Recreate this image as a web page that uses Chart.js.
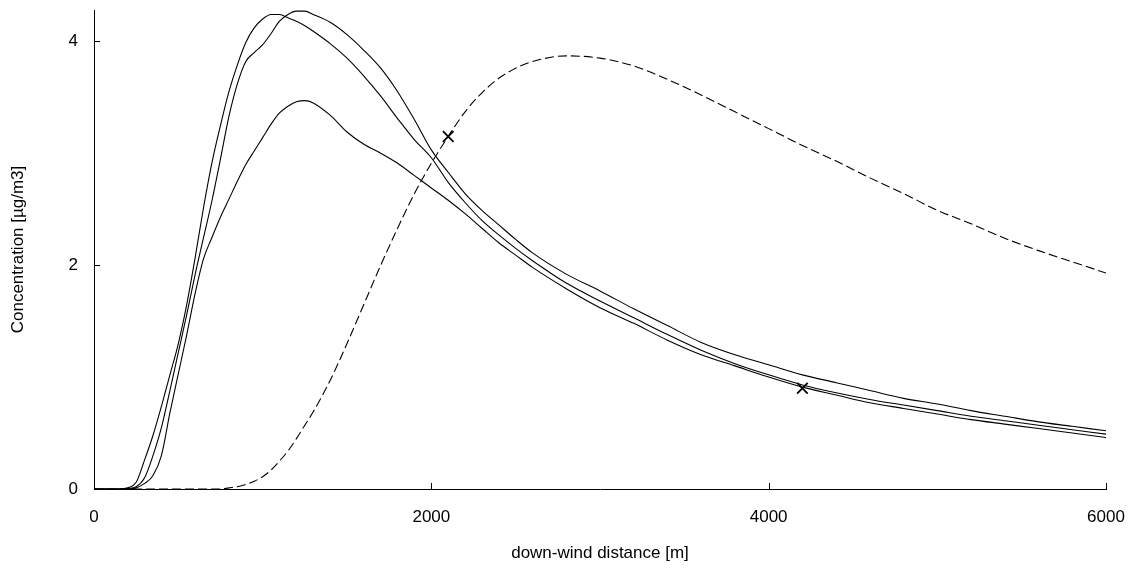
<!DOCTYPE html>
<html>
<head>
<meta charset="utf-8">
<script src="https://cdn.jsdelivr.net/npm/chart.js@4.4.1/dist/chart.umd.min.js"></script>
<style>
    html, body { margin: 0; padding: 0; background: #fff; }
    #wrap { width: 1133px; height: 570px; }
</style>
</head>
<body>
<div id="wrap"><canvas id="chart" width="1133" height="570"></canvas></div>
<script>
// down-wind distance [m]
const distance = [0, 100, 150, 200, 250, 300, 350, 400, 450, 500, 550, 600, 650, 700, 750, 800, 850, 900, 950, 1000,
    1050, 1100, 1150, 1200, 1250, 1300, 1400, 1500, 1600, 1700, 1800, 1900, 2000, 2100, 2200, 2300, 2400, 2500, 2600,
    2800, 3000, 3200, 3400, 3600, 3800, 4000, 4200, 4400, 4600, 4800, 5000, 5200, 5400, 5600, 5800, 6000];

// solid curves [µg/m3]
const curveA = [0, 0, 0, 0.01, 0.06, 0.26, 0.48, 0.74, 1.02, 1.30, 1.65, 2.07, 2.52, 2.92, 3.25, 3.55, 3.79, 3.99, 4.12, 4.20,
    4.24, 4.24, 4.21, 4.18, 4.14, 4.09, 3.98, 3.85, 3.69, 3.51, 3.31, 3.12, 2.96, 2.74, 2.56, 2.40, 2.27, 2.15, 2.04,
    1.84, 1.68, 1.53, 1.38, 1.24, 1.12, 1.02, 0.93, 0.86, 0.80, 0.75, 0.70, 0.65, 0.61, 0.57, 0.53, 0.49];
const curveB = [0, 0, 0, 0.005, 0.02, 0.10, 0.30, 0.55, 0.88, 1.22, 1.56, 1.92, 2.25, 2.58, 2.95, 3.33, 3.62, 3.82, 3.90, 3.97,
    4.07, 4.18, 4.24, 4.27, 4.27, 4.24, 4.17, 4.06, 3.92, 3.76, 3.55, 3.30, 3.03, 2.83, 2.64, 2.49, 2.36, 2.23, 2.11,
    1.92, 1.77, 1.61, 1.46, 1.31, 1.20, 1.11, 1.02, 0.95, 0.88, 0.81, 0.76, 0.70, 0.65, 0.60, 0.56, 0.52];
const curveC = [0, 0, 0, 0, 0.01, 0.05, 0.12, 0.30, 0.68, 1.03, 1.38, 1.75, 2.06, 2.25, 2.43, 2.59, 2.75, 2.90, 3.02, 3.14,
    3.26, 3.36, 3.42, 3.46, 3.47, 3.45, 3.34, 3.19, 3.08, 3.00, 2.91, 2.80, 2.69, 2.58, 2.46, 2.33, 2.20, 2.09, 1.98,
    1.79, 1.62, 1.48, 1.33, 1.20, 1.10, 1.00, 0.91, 0.84, 0.77, 0.72, 0.67, 0.62, 0.58, 0.54, 0.50, 0.46];

// dashed curve
const curveD = [0, 0, 0, 0, 0, 0, 0, 0, 0, 0, 0, 0, 0, 0, 0, 0.01, 0.02, 0.04, 0.07, 0.11,
    0.17, 0.25, 0.34, 0.45, 0.57, 0.69, 0.97, 1.30, 1.65, 2.00, 2.33, 2.64, 2.91, 3.15, 3.37, 3.54, 3.67, 3.76, 3.82,
    3.87, 3.85, 3.78, 3.66, 3.52, 3.37, 3.22, 3.07, 2.93, 2.78, 2.64, 2.49, 2.37, 2.24, 2.13, 2.03, 1.93];

// marked points
const markX = [2100, 4200];
const markY = [3.15, 0.90];

const xTicks = [0, 2000, 4000, 6000];
const yTicks = [0, 2, 4];

function toPoints(xs, ys) {
    return xs.map((x, i) => ({ x: x, y: ys[i] }));
}

const FONT = 'Liberation Sans, Arial, sans-serif';

// inward tick marks, drawn from the library's scales
const innerTicks = {
    id: 'innerTicks',
    afterDraw(chart) {
        const ctx = chart.ctx;
        const xs = chart.scales.x;
        const ys = chart.scales.y;
        ctx.save();
        ctx.strokeStyle = '#000';
        ctx.lineWidth = 1;
        ctx.beginPath();
        xTicks.forEach(v => {
            const px = Math.round(xs.getPixelForValue(v)) + 0.5;
            ctx.moveTo(px, ys.bottom);
            ctx.lineTo(px, ys.bottom - 6);
        });
        yTicks.forEach(v => {
            const py = Math.round(ys.getPixelForValue(v)) + 0.5;
            ctx.moveTo(xs.left, py);
            ctx.lineTo(xs.left + 6, py);
        });
        ctx.stroke();
        ctx.restore();
    }
};

const solid = {
    borderColor: '#000',
    borderWidth: 1.1,
    pointRadius: 0,
    fill: false,
    cubicInterpolationMode: 'monotone'
};

new Chart(document.getElementById('chart'), {
    type: 'line',
    data: {
        datasets: [
            Object.assign({ label: 'A', data: toPoints(distance, curveA) }, solid),
            Object.assign({ label: 'B', data: toPoints(distance, curveB) }, solid),
            Object.assign({ label: 'C', data: toPoints(distance, curveC) }, solid),
            Object.assign({ label: 'D', data: toPoints(distance, curveD), borderDash: [9, 4] }, solid),
            {
                type: 'scatter',
                label: 'marks',
                data: toPoints(markX, markY),
                pointStyle: 'crossRot',
                pointRadius: 7.5,
                pointBorderWidth: 1.8,
                borderColor: '#000',
                backgroundColor: '#000'
            }
        ]
    },
    options: {
        responsive: false,
        animation: false,
        layout: { padding: { top: 10, right: 27, left: 0, bottom: 0 } },
        plugins: {
            legend: { display: false },
            tooltip: { enabled: false }
        },
        scales: {
            x: {
                type: 'linear',
                min: 0,
                max: 6000,
                afterBuildTicks: s => { s.ticks = xTicks.map(v => ({ value: v })); },
                afterFit: s => { s.height = 81; s.paddingLeft = 0; s.paddingRight = 0; },
                grid: { display: false, drawTicks: false },
                border: { display: true, color: '#000', width: 1 },
                ticks: {
                    color: '#000',
                    padding: 18,
                    font: { family: FONT, size: 17 },
                    maxRotation: 0,
                    callback: v => String(v)
                },
                title: {
                    display: true,
                    text: 'down-wind distance [m]',
                    color: '#000',
                    font: { family: FONT, size: 17 },
                    padding: { top: 0, bottom: 6 }
                }
            },
            y: {
                min: 0,
                max: 4.28,
                afterBuildTicks: s => { s.ticks = yTicks.map(v => ({ value: v })); },
                afterFit: s => { s.width = 94; s.paddingTop = 0; s.paddingBottom = 0; },
                grid: { display: false, drawTicks: false },
                border: { display: true, color: '#000', width: 1 },
                ticks: {
                    color: '#000',
                    padding: 16,
                    font: { family: FONT, size: 17 },
                    callback: v => String(v)
                },
                title: {
                    display: true,
                    text: 'Concentration [µg/m3]',
                    color: '#000',
                    font: { family: FONT, size: 17 },
                    padding: { top: 8, bottom: 0 }
                }
            }
        }
    },
    plugins: [innerTicks]
});
</script>
</body>
</html>
